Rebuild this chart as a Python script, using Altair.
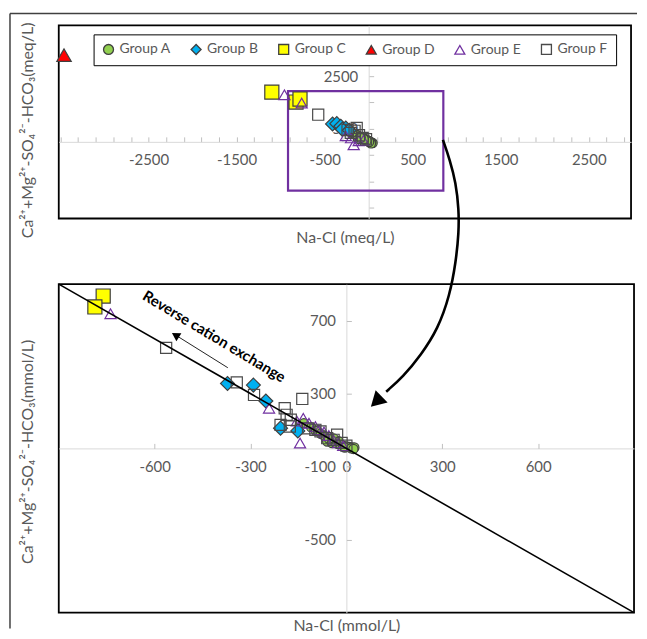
import altair as alt
import pandas as pd

FONT = "Lato, 'Noto Sans', sans-serif"
GRAY = "#595959"

GROUPS = ["Group A", "Group B", "Group C", "Group D", "Group E", "Group F"]
FILLS = ["#92D050", "#00B0F0", "#FFFF00", "#FF0000", "transparent", "transparent"]
STROKES = ["#3F3F3F", "#3F3F3F", "#3F3F3F", "#3F3F3F", "#7030A0", "#4A4A4A"]
SHAPES = ["circle", "diamond", "square", "triangle-up", "triangle-up", "square"]
SIZES = [85, 195, 200, 210, 125, 125]

# ---------------- top panel (meq/L) ----------------
TOP_A_X = [45, 30, 20, 10, 0, -15, -30, -45, -60, -80, -100, -120, -140, -165, -190, -215, 25, 5, -25, -55, -90]
TOP_A_Y = [-45, -20, 0, 20, 35, 60, 90, 110, 140, 170, 200, 230, 270, 300, 350, 390, -60, -10, 40, 95, 150]
TOP_B_X = [-410, -362, -317, -260, -300, -220]
TOP_B_Y = [682, 693, 595, 530, 480, 440]
TOP_C_X = [-1100, -825, -780]
TOP_C_Y = [1894, 1515, 1629]
TOP_D_X = [-3460]
TOP_D_Y = [3300]
TOP_E_X = [-957, -761, -170, -260, -113, -60, -200]
TOP_E_Y = [1792, 1477, -114, 227, 38, 60, 150]
TOP_F_X = [-573, -136, -203, -68, -110, -30, -160, -240]
TOP_F_Y = [1034, 530, 341, 152, 250, 100, 420, 450]

TOP_X_DOMAIN = [-3520, 2980]
TOP_Y_DOMAIN = [-2917, 4432]
TOP_X_LABELS = [-2500, -1500, -500, 500, 1500, 2500]
TOP_X_TICKS = [-3500, -3300, -3100, -2900, -2700, -2500, -2300, -2100, -1900, -1700, -1500,
               -1300, -1100, -900, -700, -500, -300, -100, 100, 300, 500, 700, 900, 1100,
               1300, 1500, 1700, 1900, 2100, 2300, 2500, 2700, 2900]
TOP_Y_LABELS = [2500, 500]
TOP_Y_TICKS = [-2500, -1500, -500, 500, 1500, 2500, 3500]

BOX_X = [-916]
BOX_X2 = [848]
BOX_Y = [-1856]
BOX_Y2 = [1932]

CURVE_X = [843, 922, 990, 1024, 1024, 990, 922, 787, 595, 391, 199]
CURVE_Y = [76, -682, -1553, -2576, -3447, -4583, -5833, -7121, -8106, -8939, -9508]
HEAD_X = [86]
HEAD_Y = [-9886]

# ---------------- bottom panel (mmol/L) ----------------
BOT_A_X = [-133, -110, -95, -80, -70, -60, -55, -45, -34, -19, -10, 2, 10, 18, 25, -5, 15, 22, -25, -40]
BOT_A_Y = [138, 115, 95, 80, 70, 38, 53, 29, 29, 22, 15, 11, 8, 5, 5, 5, 0, -3, 40, 55]
BOT_B_X = [-372, -291, -252, -206, -152]
BOT_B_Y = [356, 347, 260, 111, 96]
BOT_C_X = [-761, -787]
BOT_C_Y = [835, 775]
BOT_D_X = []
BOT_D_Y = []
BOT_E_X = [-738, -242, -135, -145, -117, -97, -86, -70, -55, -40, -25, -10, -155]
BOT_E_Y = [738, 220, 165, 29, 138, 120, 102, 90, 70, 45, 30, 15, 150]
BOT_F_X = [-564, -343, -289, -138, -193, -187, -174, -206, -177, -97, -81, -29, -60, -40, -120, -15, 0]
BOT_F_Y = [551, 362, 293, 271, 220, 184, 157, 129, 120, 102, 93, 75, 56, 47, 110, 30, 15]

BOT_X_DOMAIN = [-900, 900]
BOT_Y_DOMAIN = [-900, 900]
BOT_X_LABELS = [-600, -300, 0, 300, 600]
BOT_X_TICKS = [-600, -300, 300, 600]
BOT_Y_LABELS = [700, 300, -100, -500]
BOT_Y_TICKS = [700, 300, -100, -500]

LINE_X = [-900, 900]
LINE_Y = [900, -900]
SMALL_ARROW_X = [-371, -528]
SMALL_ARROW_Y = [442, 614]
SMALL_HEAD_X = [-535]
SMALL_HEAD_Y = [621]
NOTE_X = [-414]
NOTE_Y = [613]
NOTE_TEXT = ["Reverse cation exchange"]

TOP_XTITLE = "Na-Cl (meq/L)"
TOP_YTITLE = "Ca²⁺+Mg²⁺-SO₄²⁻-HCO₃(meq/L)"
BOT_XTITLE = "Na-Cl (mmol/L)"
BOT_YTITLE = "Ca²⁺+Mg²⁺-SO₄²⁻-HCO₃(mmol/L)"

TW, TH = 575, 194
BW, BH = 578, 330


def group_frame(xs, ys):
    rows = []
    for g, (gx, gy) in zip(GROUPS, zip(xs, ys)):
        for a, b in zip(gx, gy):
            rows.append({"group": g, "x": a, "y": b})
    return pd.DataFrame(rows)


top_df = group_frame([TOP_A_X, TOP_B_X, TOP_C_X, TOP_D_X, TOP_E_X, TOP_F_X],
                     [TOP_A_Y, TOP_B_Y, TOP_C_Y, TOP_D_Y, TOP_E_Y, TOP_F_Y])
bot_df = group_frame([BOT_A_X, BOT_B_X, BOT_C_X, BOT_D_X, BOT_E_X, BOT_F_X],
                     [BOT_A_Y, BOT_B_Y, BOT_C_Y, BOT_D_Y, BOT_E_Y, BOT_F_Y])

LAB = dict(labelFont=FONT, labelFontSize=15, labelColor=GRAY, labelPadding=11, grid=False,
           ticks=False, tickSize=0, domain=True, domainColor="#D9D9D9", domainWidth=1,
           labelFlush=False, labelOverlap=False, labelExpr="'' + datum.value",
           titleFont=FONT, titleFontSize=16,
           titleColor=GRAY, titleFontWeight="normal")
TICK = dict(labels=False, domain=False, grid=False, ticks=True, tickSize=5,
            tickColor="#BFBFBF", tickWidth=1, title=None)
VIEW = alt.ViewBackground(stroke="black", strokeWidth=1.8, fill="transparent")


def zero_pos(domain, size):
    return size * (0 - domain[0]) / (domain[1] - domain[0])


def point_layers(df, xs, ys, xaxis, yaxis, legend):
    layers = []
    for i, (g, sz) in enumerate(zip(GROUPS, SIZES)):
        layers.append(
            alt.Chart(df).transform_filter(alt.datum.group == g)
            .mark_point(filled=True, opacity=1, strokeWidth=1.2, size=sz)
            .encode(
                x=alt.X("x:Q", scale=xs, axis=xaxis if i == 0 else None),
                y=alt.Y("y:Q", scale=ys, axis=yaxis if i == 0 else None),
                fill=alt.Fill("group:N", scale=alt.Scale(domain=GROUPS, range=FILLS), legend=legend),
                stroke=alt.Stroke("group:N", scale=alt.Scale(domain=GROUPS, range=STROKES), legend=legend),
                shape=alt.Shape("group:N", scale=alt.Scale(domain=GROUPS, range=SHAPES), legend=legend),
            )
        )
    return layers


# ---------------- top chart ----------------
tx0 = zero_pos(TOP_X_DOMAIN, TW)
ty0 = TH - zero_pos(TOP_Y_DOMAIN, TH)
txs = alt.Scale(domain=TOP_X_DOMAIN, nice=False, zero=False)
tys = alt.Scale(domain=TOP_Y_DOMAIN, nice=False, zero=False)

legend = alt.Legend(title=None, orient="none", legendX=35, legendY=9, direction="horizontal",
                    columns=6, labelFont=FONT, labelFontSize=14, labelColor=GRAY,
                    symbolSize=100, symbolStrokeWidth=1.3, strokeColor="black",
                    fillColor="white", padding=8, columnPadding=17, labelOffset=4)

top_box = alt.Chart(pd.DataFrame({"x": BOX_X, "x2": BOX_X2, "y": BOX_Y, "y2": BOX_Y2})).mark_rect(
    fill="transparent", stroke="#7030A0", strokeWidth=2.2
).encode(
    x=alt.X("x:Q", scale=txs, axis=alt.Axis(orient="top", offset=-ty0, values=TOP_X_TICKS, **TICK)),
    x2="x2:Q",
    y=alt.Y("y:Q", scale=tys, axis=alt.Axis(orient="right", offset=tx0 - TW, values=TOP_Y_TICKS, **TICK)),
    y2="y2:Q",
)

top_xaxis = alt.Axis(orient="bottom", offset=-(TH - ty0), values=TOP_X_LABELS, title=TOP_XTITLE,
                     titleY=96, titleBaseline="middle", **LAB)
top_yaxis = alt.Axis(orient="left", offset=-tx0, values=TOP_Y_LABELS, title=TOP_YTITLE,
                     titleX=26 - 57 - tx0, titleY=105, titleAngle=270, titleBaseline="middle",
                     titleAlign="center", **LAB)

curve = alt.Chart(pd.DataFrame({"x": CURVE_X, "y": CURVE_Y, "i": list(range(len(CURVE_X)))})).mark_line(
    color="black", strokeWidth=2.6, interpolate="basis", clip=False
).encode(x=alt.X("x:Q", scale=txs, axis=None), y=alt.Y("y:Q", scale=tys, axis=None), order="i:Q")

head = alt.Chart(pd.DataFrame({"x": HEAD_X, "y": HEAD_Y})).mark_point(
    shape="triangle-up", filled=True, color="black", opacity=1, size=300, angle=226
).encode(x=alt.X("x:Q", scale=txs, axis=None), y=alt.Y("y:Q", scale=tys, axis=None))

one = pd.DataFrame({"v": [0]})
frame_top = alt.Chart(one).mark_rule(color="#404040", strokeWidth=1.5).encode(
    x=alt.value(-49), x2=alt.value(581), y=alt.value(-12))
frame_left = alt.Chart(one).mark_rule(color="#404040", strokeWidth=1.5).encode(
    x=alt.value(-49), y=alt.value(-12), y2=alt.value(606))

top = alt.layer(
    top_box,
    *point_layers(top_df, txs, tys, top_xaxis, top_yaxis, legend),
    curve, head, frame_top, frame_left,
).properties(width=TW, height=TH, view=VIEW)

# ---------------- bottom chart ----------------
bx0 = zero_pos(BOT_X_DOMAIN, BW)
by0 = BH - zero_pos(BOT_Y_DOMAIN, BH)
bxs = alt.Scale(domain=BOT_X_DOMAIN, nice=False, zero=False)
bys = alt.Scale(domain=BOT_Y_DOMAIN, nice=False, zero=False)

ref_line = alt.Chart(pd.DataFrame({"x": LINE_X, "y": LINE_Y})).mark_line(
    color="black", strokeWidth=1.6
).encode(
    x=alt.X("x:Q", scale=bxs, axis=alt.Axis(orient="top", offset=-by0, values=BOT_X_TICKS, **TICK)),
    y=alt.Y("y:Q", scale=bys, axis=alt.Axis(orient="right", offset=bx0 - BW, values=BOT_Y_TICKS, **TICK)),
)

bot_xaxis = alt.Axis(orient="bottom", offset=-(BH - by0), values=BOT_X_LABELS, title=BOT_XTITLE,
                     titleY=178, titleBaseline="middle", **LAB)
bot_yaxis = alt.Axis(orient="left", offset=-bx0, values=BOT_Y_LABELS, title=BOT_YTITLE,
                     titleX=26 - 57 - bx0, titleY=168, titleAngle=270, titleBaseline="middle",
                     titleAlign="center", **LAB)

small_arrow = alt.Chart(pd.DataFrame({"x": SMALL_ARROW_X, "y": SMALL_ARROW_Y})).mark_line(
    color="#222222", strokeWidth=1
).encode(x=alt.X("x:Q", scale=bxs, axis=None), y=alt.Y("y:Q", scale=bys, axis=None))

small_head = alt.Chart(pd.DataFrame({"x": SMALL_HEAD_X, "y": SMALL_HEAD_Y})).mark_point(
    shape="triangle-up", filled=True, color="black", opacity=1, size=90, angle=302
).encode(x=alt.X("x:Q", scale=bxs, axis=None), y=alt.Y("y:Q", scale=bys, axis=None))

note = alt.Chart(pd.DataFrame({"x": NOTE_X, "y": NOTE_Y, "t": NOTE_TEXT})).mark_text(
    font=FONT, fontSize=15, fontWeight="bold", color="black", angle=31,
    align="center", baseline="middle"
).encode(x=alt.X("x:Q", scale=bxs, axis=None), y=alt.Y("y:Q", scale=bys, axis=None), text="t:N")

bottom = alt.layer(
    *point_layers(bot_df, bxs, bys, bot_xaxis, bot_yaxis, None),
    ref_line, small_arrow, small_head, note,
).properties(width=BW, height=BH, view=VIEW)

chart = alt.vconcat(top, bottom, spacing=66, bounds="flush").resolve_scale(
    fill="independent", stroke="independent", shape="independent"
).properties(
    padding={"left": 0, "top": 2, "right": 0, "bottom": 0}
).configure(font=FONT, background="white")

chart.save("out.html", embed_options={"renderer": "svg", "actions": False})
